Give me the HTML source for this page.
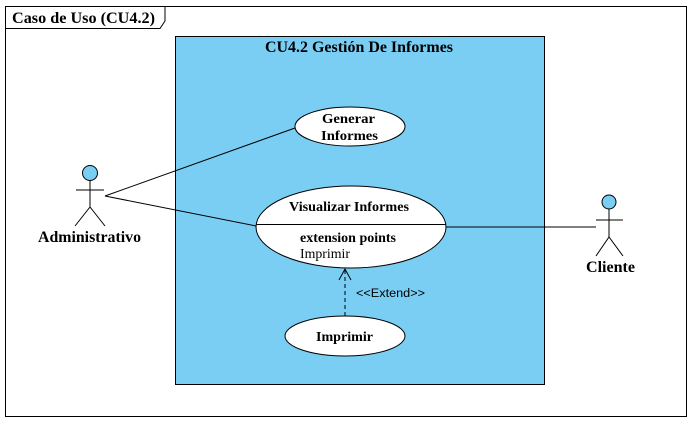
<!DOCTYPE html>
<html><head><meta charset="utf-8"><style>
html,body{margin:0;padding:0;background:#fff;width:693px;height:423px;overflow:hidden}
</style></head><body>
<svg width="693" height="423" xmlns="http://www.w3.org/2000/svg" font-family="Liberation Serif, serif">
<rect x="5.5" y="6.5" width="681" height="410" fill="#fff" stroke="#000"/>
<path d="M5.5 28.5 H160 L165 21 V6.5" fill="none" stroke="#000"/>
<text x="12" y="23" font-size="15.5" font-weight="bold" textLength="143" lengthAdjust="spacingAndGlyphs">Caso de Uso (CU4.2)</text>
<rect x="175.5" y="36.5" width="369" height="348" fill="#7ACEF4" stroke="#000"/>
<text x="265" y="52" font-size="15.5" font-weight="bold" textLength="188" lengthAdjust="spacingAndGlyphs">CU4.2 Gestión De Informes</text>
<line x1="105" y1="196" x2="295" y2="128" stroke="#000"/>
<line x1="105" y1="196" x2="256" y2="226" stroke="#000"/>
<line x1="446" y1="227" x2="596" y2="227" stroke="#000"/>
<ellipse cx="350" cy="126.5" rx="55" ry="19.5" fill="#fff" stroke="#000"/>
<text x="322" y="123" font-size="13.5" font-weight="bold" textLength="53" lengthAdjust="spacingAndGlyphs">Generar</text>
<text x="321" y="140" font-size="13.5" font-weight="bold" textLength="57" lengthAdjust="spacingAndGlyphs">Informes</text>
<ellipse cx="351" cy="227" rx="95" ry="41" fill="#fff" stroke="#000"/>
<line x1="256" y1="224.5" x2="446" y2="224.5" stroke="#000"/>
<text x="289" y="211" font-size="13.5" font-weight="bold" textLength="120" lengthAdjust="spacingAndGlyphs">Visualizar Informes</text>
<text x="300" y="242" font-size="13.5" font-weight="bold" textLength="96" lengthAdjust="spacingAndGlyphs">extension points</text>
<text x="300" y="258" font-size="13.5" textLength="50" lengthAdjust="spacingAndGlyphs">Imprimir</text>
<ellipse cx="345" cy="336" rx="60" ry="20" fill="#fff" stroke="#000"/>
<text x="316" y="341" font-size="13.5" font-weight="bold" textLength="57" lengthAdjust="spacingAndGlyphs">Imprimir</text>
<line x1="345" y1="316" x2="345" y2="270" stroke="#000" stroke-dasharray="4,3"/>
<path d="M339 280 L345 269 L351 280" fill="none" stroke="#000"/>
<text x="356" y="297" font-size="11.5" font-family="Liberation Sans, sans-serif" textLength="69" lengthAdjust="spacingAndGlyphs">&lt;&lt;Extend&gt;&gt;</text>
<circle cx="90" cy="173" r="7.5" fill="#7ACEF4" stroke="#000"/>
<line x1="90" y1="181" x2="90" y2="207" stroke="#000"/>
<line x1="76" y1="190" x2="104" y2="190" stroke="#000"/>
<path d="M75 226 L90 207 L105 226" fill="none" stroke="#000"/>
<text x="38" y="242" font-size="15.5" font-weight="bold" textLength="103" lengthAdjust="spacingAndGlyphs">Administrativo</text>
<circle cx="609" cy="202" r="7" fill="#7ACEF4" stroke="#000"/>
<line x1="609" y1="209" x2="609" y2="237" stroke="#000"/>
<line x1="596" y1="220" x2="623" y2="220" stroke="#000"/>
<path d="M596 256 L609 237 L623 256" fill="none" stroke="#000"/>
<text x="586" y="272" font-size="15.5" font-weight="bold" textLength="49" lengthAdjust="spacingAndGlyphs">Cliente</text>
</svg>
</body></html>
